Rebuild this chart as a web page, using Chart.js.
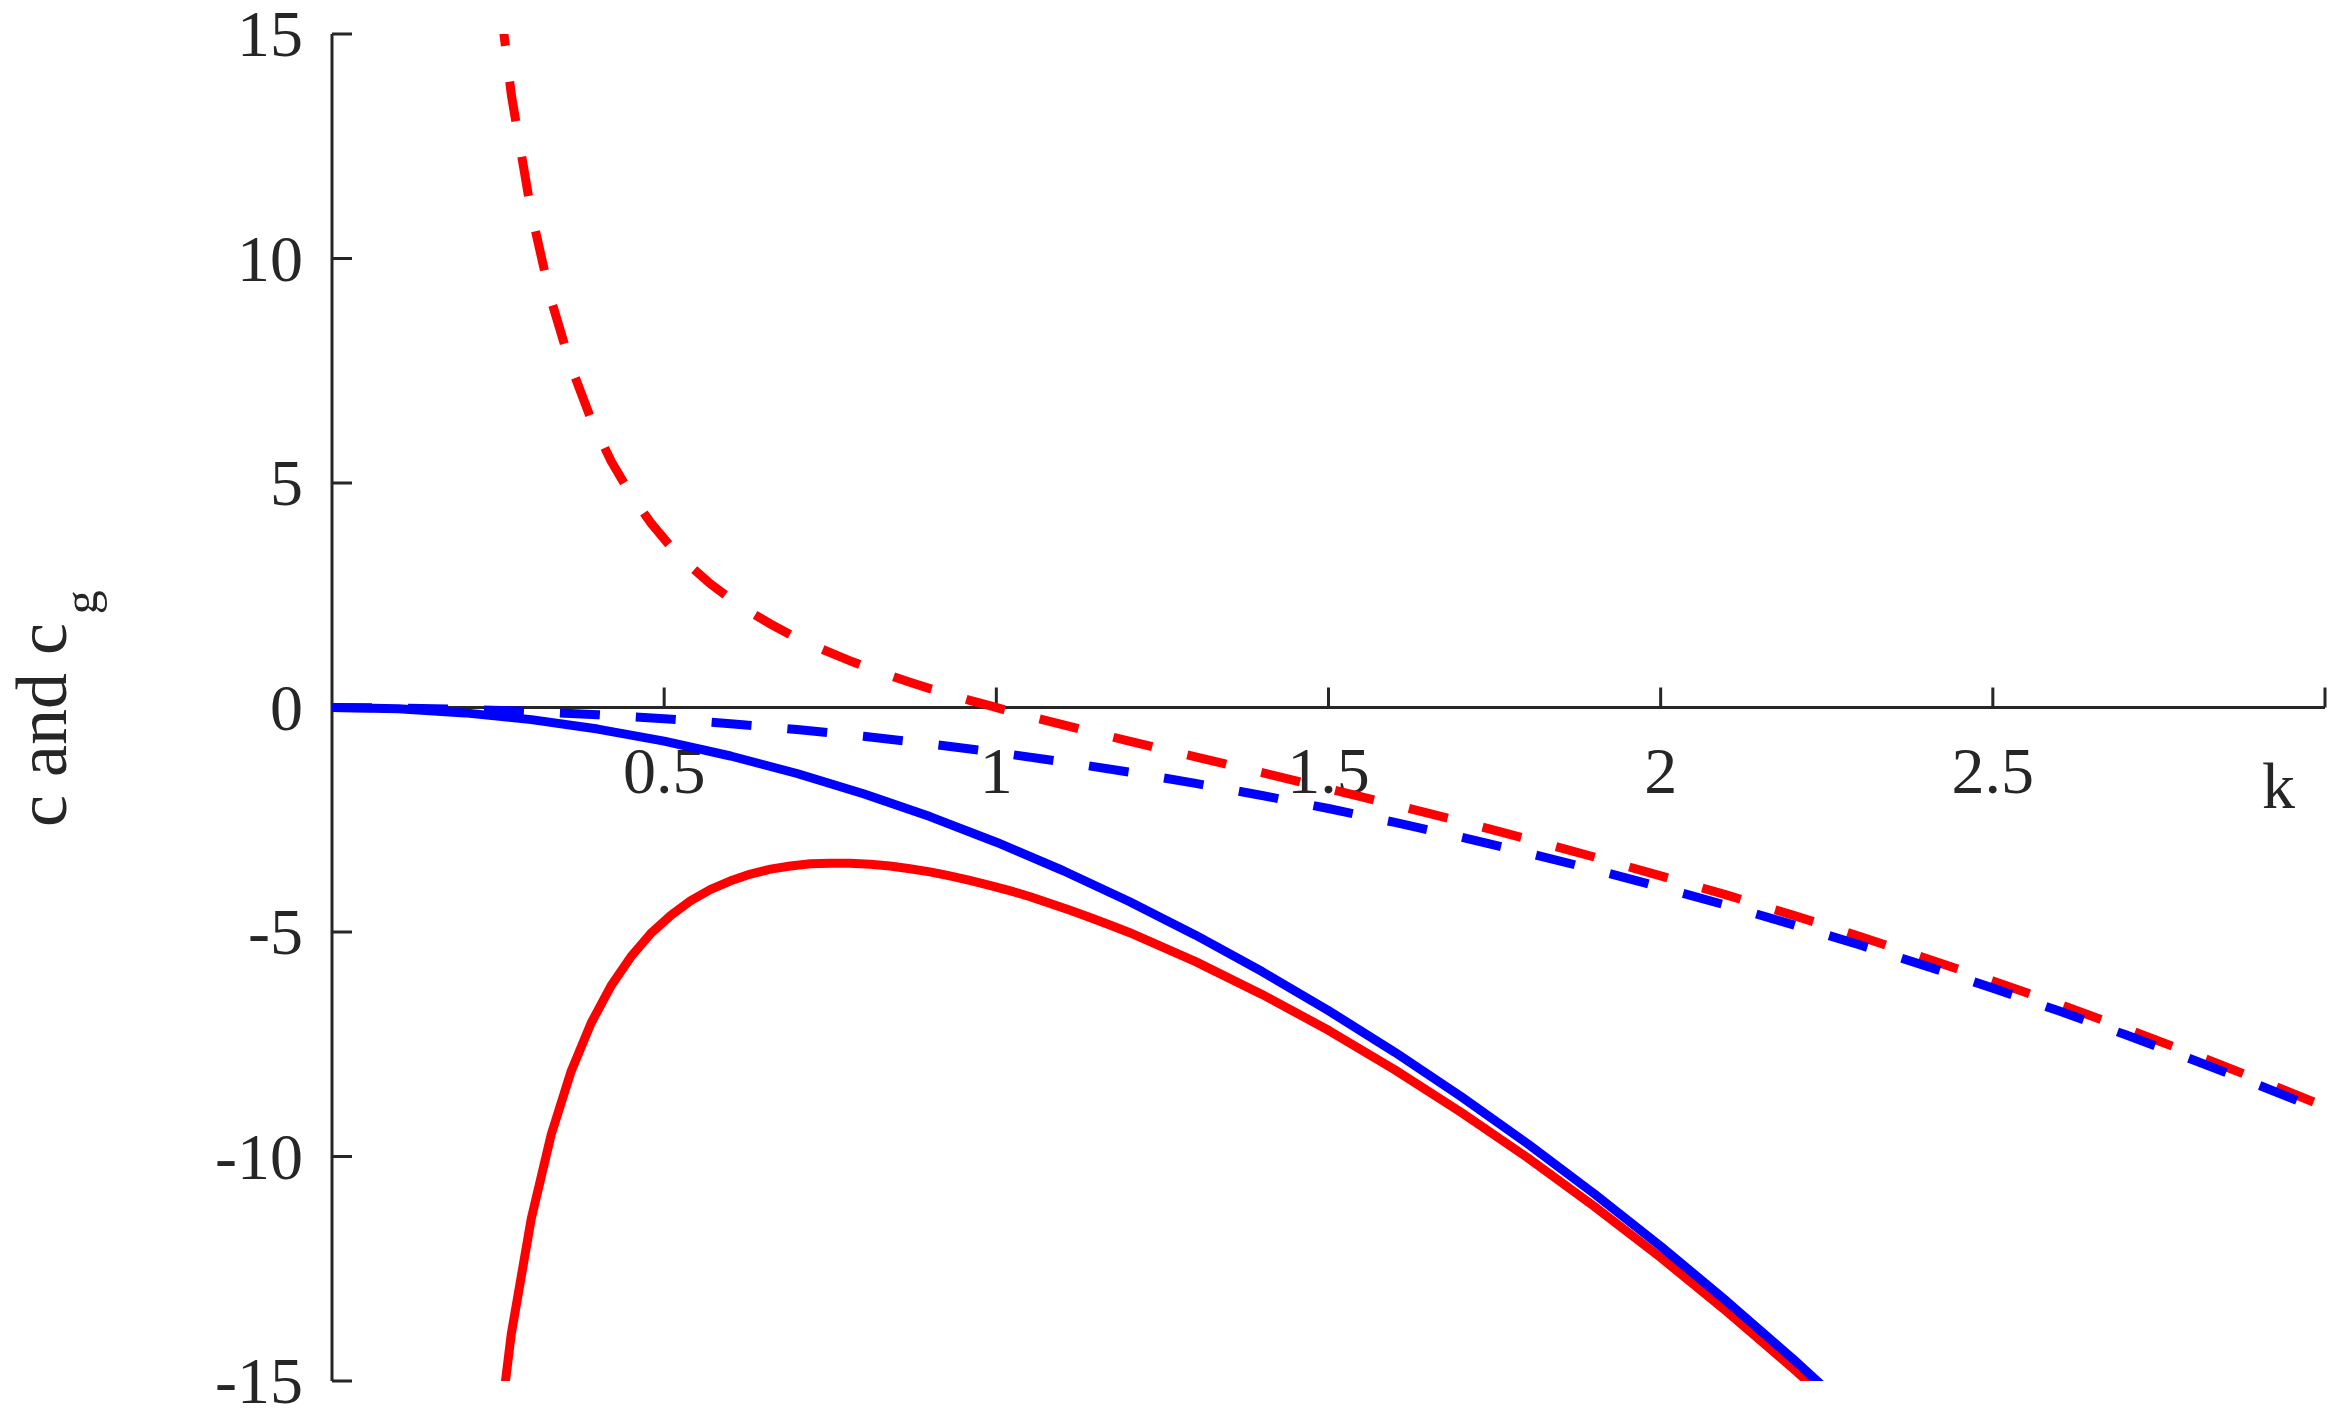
<!DOCTYPE html>
<html>
<head>
<meta charset="utf-8">
<script src="https://cdn.jsdelivr.net/npm/chart.js@4.4.0/dist/chart.umd.min.js"></script>
<style>
  html, body { margin: 0; padding: 0; background: #fff; }
  #wrap { width: 2346px; height: 1428px; }
</style>
</head>
<body>
<div id="wrap"><canvas id="chart" width="2346" height="1428"></canvas></div>
<script>
// red curves: fine sampling near small k, coarser further out
const kRed = [0.24, 0.27, 0.30, 0.33, 0.36, 0.39, 0.42, 0.45, 0.48, 0.51, 0.54, 0.57, 0.60,
  0.63, 0.66, 0.69, 0.72, 0.75, 0.78, 0.81, 0.84, 0.87, 0.90, 0.93, 0.96, 0.99, 1.02, 1.05,
  1.08, 1.11, 1.14, 1.17, 1.20, 1.3, 1.4, 1.5, 1.6, 1.7, 1.8, 1.9, 2.0, 2.1, 2.2, 2.3, 2.4,
  2.5, 2.6, 2.7, 2.8, 2.9, 3.0];
const cRed = [17.30, 13.64, 11.02, 9.07, 7.59, 6.42, 5.49, 4.74, 4.11, 3.58, 3.14, 2.75, 2.42,
  2.12, 1.86, 1.62, 1.41, 1.22, 1.04, 0.87, 0.71, 0.56, 0.42, 0.29, 0.16, 0.04, -0.08, -0.20,
  -0.31, -0.42, -0.53, -0.64, -0.75, -1.10, -1.45, -1.81, -2.17, -2.54, -2.93, -3.33, -3.75,
  -4.18, -4.63, -5.10, -5.59, -6.09, -6.61, -7.15, -7.71, -8.29, -8.89];
const cgRed = [-17.53, -13.94, -11.38, -9.51, -8.10, -7.03, -6.20, -5.55, -5.03, -4.63, -4.30,
  -4.05, -3.86, -3.71, -3.60, -3.53, -3.48, -3.47, -3.47, -3.49, -3.53, -3.59, -3.66, -3.75,
  -3.85, -3.96, -4.08, -4.21, -4.36, -4.51, -4.67, -4.84, -5.01, -5.66, -6.39, -7.19, -8.07,
  -9.02, -10.03, -11.11, -12.25, -13.46, -14.73, -16.06];

const kBlue = [0, 0.1, 0.2, 0.3, 0.4, 0.5, 0.6, 0.7, 0.8, 0.9, 1.0, 1.1, 1.2, 1.3, 1.4, 1.5,
  1.6, 1.7, 1.8, 1.9, 2.0, 2.1, 2.2, 2.3, 2.4, 2.5, 2.6, 2.7, 2.8, 2.9, 3.0];
const cBlue = [0, -0.01, -0.04, -0.09, -0.16, -0.25, -0.36, -0.49, -0.64, -0.81, -1, -1.21,
  -1.44, -1.69, -1.96, -2.25, -2.56, -2.89, -3.24, -3.61, -4, -4.41, -4.84, -5.29, -5.76,
  -6.25, -6.76, -7.29, -7.84, -8.41, -9];
const cgBlue = [0, -0.03, -0.12, -0.27, -0.48, -0.75, -1.08, -1.47, -1.92, -2.43, -3, -3.63,
  -4.32, -5.07, -5.88, -6.75, -7.68, -8.67, -9.72, -10.83, -12, -13.23, -14.52, -15.87];

const xTicks = [0.5, 1, 1.5, 2, 2.5, 3];
const xTickLabels = ['0.5', '1', '1.5', '2', '2.5', ''];
const yTicks = [-15, -10, -5, 0, 5, 10, 15];

const AXIS = '#262626';
const SERIF = '"Liberation Serif", "Times New Roman", serif';

function pts(xs, ys) {
  return ys.map((y, i) => ({ x: xs[i], y: y }));
}

// axes are drawn by hand: x axis sits on y = 0, ticks point inward
const axesPlugin = {
  id: 'matlabAxes',
  beforeDatasetsDraw(chart) {
    const ctx = chart.ctx;
    const xs = chart.scales.x, ys = chart.scales.y;
    const area = chart.chartArea;
    const y0 = ys.getPixelForValue(0);
    const tick = 20;

    ctx.save();
    ctx.strokeStyle = AXIS;
    ctx.lineWidth = 3;
    ctx.beginPath();
    ctx.moveTo(area.left, area.top);
    ctx.lineTo(area.left, area.bottom);
    ctx.moveTo(area.left, y0);
    ctx.lineTo(area.right, y0);
    yTicks.forEach(v => {
      const py = ys.getPixelForValue(v);
      ctx.moveTo(area.left, py);
      ctx.lineTo(area.left + tick, py);
    });
    xTicks.forEach(v => {
      const px = xs.getPixelForValue(v);
      ctx.moveTo(px, y0);
      ctx.lineTo(px, y0 - tick);
    });
    ctx.stroke();

    ctx.fillStyle = AXIS;
    ctx.font = '66px ' + SERIF;
    ctx.textAlign = 'right';
    ctx.textBaseline = 'alphabetic';
    yTicks.forEach(v => {
      ctx.fillText(String(v), area.left - 29, ys.getPixelForValue(v) + 22);
    });
    ctx.textAlign = 'center';
    xTicks.forEach((v, i) => {
      ctx.fillText(xTickLabels[i], xs.getPixelForValue(v), y0 + 85);
    });
    ctx.fillText('k', xs.getPixelForValue(2.93), y0 + 100);

    // y title with subscript
    ctx.translate(66, 827);
    ctx.rotate(-Math.PI / 2);
    ctx.textAlign = 'left';
    ctx.font = '72px ' + SERIF;
    ctx.fillText('c and c', 0, 0);
    const w = ctx.measureText('c and c').width;
    ctx.font = '48px ' + SERIF;
    ctx.fillText('g', w + 9, 31);
    ctx.restore();
  }
};

const common = { pointRadius: 0, tension: 0, borderWidth: 9, fill: false, clip: 0 };

new Chart(document.getElementById('chart'), {
  type: 'line',
  data: {
    datasets: [
      Object.assign({ label: 'c (blue)', data: pts(kBlue, cBlue), borderColor: '#0000ff',
        borderDash: [40, 36], borderCapStyle: 'butt', order: 1 }, common),
      Object.assign({ label: 'cg (blue)', data: pts(kBlue, cgBlue), borderColor: '#0000ff',
        borderJoinStyle: 'round', order: 2 }, common),
      Object.assign({ label: 'c (red)', data: pts(kRed, cRed), borderColor: '#ff0000',
        borderDash: [40, 36], borderCapStyle: 'butt', order: 3 }, common),
      Object.assign({ label: 'cg (red)', data: pts(kRed, cgRed), borderColor: '#ff0000',
        borderJoinStyle: 'round', order: 4 }, common)
    ]
  },
  options: {
    responsive: false,
    animation: false,
    devicePixelRatio: 1,
    layout: { padding: { left: 332, right: 21, top: 34, bottom: 47 } },
    plugins: { legend: { display: false }, tooltip: { enabled: false } },
    scales: {
      x: { type: 'linear', min: 0, max: 3, display: false },
      y: { type: 'linear', min: -15, max: 15, display: false }
    }
  },
  plugins: [axesPlugin]
});
</script>
</body>
</html>
